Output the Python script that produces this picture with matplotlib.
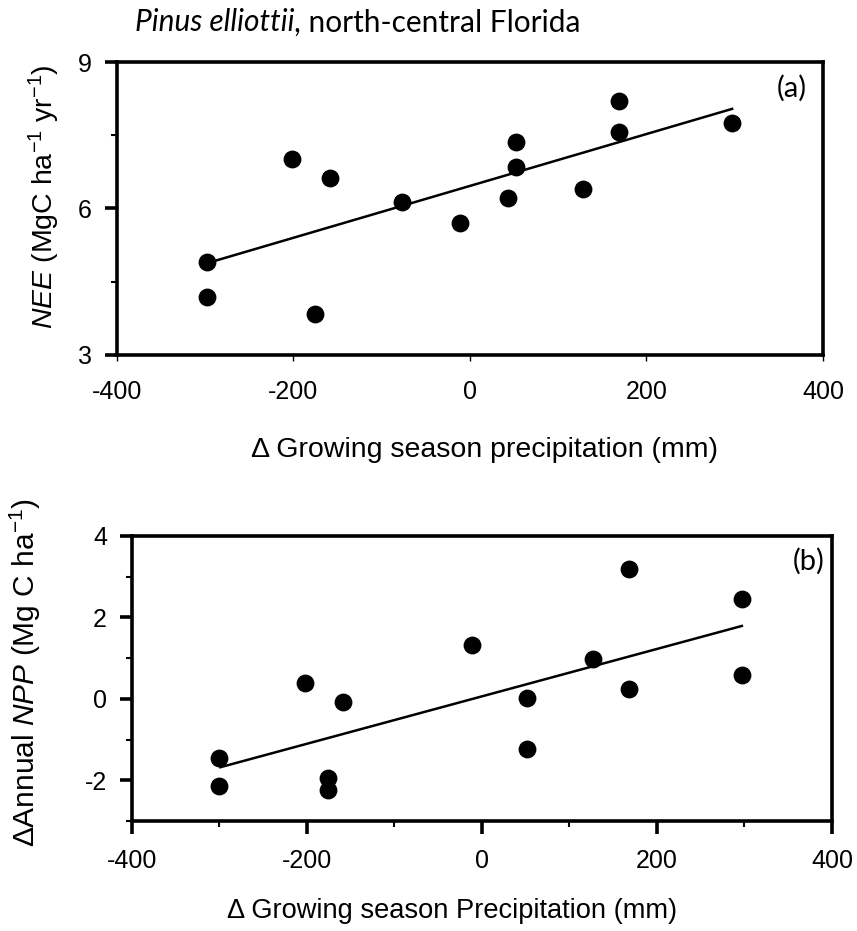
import numpy as np
import matplotlib
matplotlib.use("Agg")
import matplotlib.pyplot as plt
from matplotlib.ticker import MultipleLocator

# panel (a): NEE vs growing season precipitation anomaly
precipA = [-298, -298, -202, -176, -159, -77, -11, 43, 52, 52, 128, 169, 169, 297]
neeA = [4.90, 4.19, 7.01, 3.84, 6.62, 6.13, 5.70, 6.21, 6.85, 7.36, 6.40, 8.20, 7.57, 7.75]
fitA_x = [-298, 297]
fitA_y = [4.88, 8.04]

# panel (b): annual NPP anomaly vs growing season precipitation anomaly
precipB = [-301, -301, -202, -176, -176, -159, -11, 51, 51, 127, 168, 168, 297, 297]
nppB = [-1.45, -2.14, 0.39, -1.95, -2.24, -0.08, 1.32, 0.02, -1.23, 0.98, 3.19, 0.24, 2.45, 0.58]
fitB_x = [-299, 297]
fitB_y = [-1.68, 1.79]

xticks = [-400, -200, 0, 200, 400]

plt.rcParams['font.family'] = ['Liberation Sans', 'DejaVu Sans']
plt.rcParams['axes.unicode_minus'] = False
plt.rcParams['mathtext.fontset'] = 'custom'
plt.rcParams['mathtext.rm'] = 'Liberation Sans'
plt.rcParams['mathtext.it'] = 'Liberation Sans:italic'

fig = plt.figure(figsize=(8.57, 9.31), dpi=100)
axA = fig.add_axes([0.1365, 0.6187, 0.9603 - 0.1365, 0.9334 - 0.6187])
axB = fig.add_axes([0.154, 0.1182, 0.9708 - 0.154, 0.4243 - 0.1182])


def style(ax):
    for s in ax.spines.values():
        s.set_linewidth(2.6)
    ax.tick_params(axis='both', which='both', direction='out', labelsize=18)
    ax.tick_params(axis='y', which='major', length=9, width=2.6, pad=9)
    ax.tick_params(axis='y', which='minor', length=4, width=1.5)


# --- panel (a)
axA.scatter(precipA, neeA, s=140, color='black', zorder=3)
axA.plot(fitA_x, fitA_y, color='black', lw=1.8)
axA.set_xlim(-400, 400)
axA.set_ylim(3, 9)
axA.set_xticks(xticks)
axA.set_yticks([3, 6, 9])
axA.yaxis.set_minor_locator(MultipleLocator(1.5))
style(axA)
axA.tick_params(axis='x', which='major', length=4, width=1.0, pad=14)
axA.set_xlabel('\u0394 Growing season precipitation (mm)', fontsize=20.5, labelpad=24)
axA.xaxis.label.set_x(0.521)
axA.set_ylabel('$\\it{NEE}$ (MgC ha$^{\\mathrm{-1}}$ yr$^{\\mathrm{-1}}$)', fontsize=20.5)
axA.yaxis.set_label_coords(-0.078, 0.54)
axA.text(0.977, 0.91, '(a)', transform=axA.transAxes, ha='right', va='center',
         fontsize=21, family=['Lato', 'DejaVu Sans'])

# --- panel (b)
axB.scatter(precipB, nppB, s=140, color='black', zorder=3)
axB.plot(fitB_x, fitB_y, color='black', lw=1.8)
axB.set_xlim(-400, 400)
axB.set_ylim(-3, 4)
axB.set_xticks(xticks)
axB.xaxis.set_minor_locator(MultipleLocator(100))
axB.set_yticks([-2, 0, 2, 4])
axB.yaxis.set_minor_locator(MultipleLocator(1))
style(axB)
axB.tick_params(axis='x', which='major', length=9, width=2.6, pad=11)
axB.tick_params(axis='x', which='minor', length=4, width=1.5)
axB.set_xlabel('\u0394 Growing season Precipitation (mm)', fontsize=19.6, labelpad=18)
axB.xaxis.label.set_x(0.457)
axB.set_ylabel('\u0394Annual $\\it{NPP}$ (Mg C ha$^{\\mathrm{-1}}$)', fontsize=21.5)
axB.yaxis.set_label_coords(-0.127, 0.52)
axB.text(0.99, 0.91, '(b)', transform=axB.transAxes, ha='right', va='center',
         fontsize=21, family=['Lato', 'DejaVu Sans'])

# title: italic species name followed by upright location
t1 = fig.text(0.157, 0.976, 'Pinus elliottii', ha='left', va='center', fontsize=21.5,
              style='italic', family=['Lato', 'DejaVu Sans'])
fig.canvas.draw()
bb = t1.get_window_extent(fig.canvas.get_renderer())
fig.text(bb.x1 / fig.bbox.width, 0.976, ', north-central Florida', ha='left', va='center',
         fontsize=21.5, family=['Lato', 'DejaVu Sans'])

fig.savefig('out.png', dpi=100)
